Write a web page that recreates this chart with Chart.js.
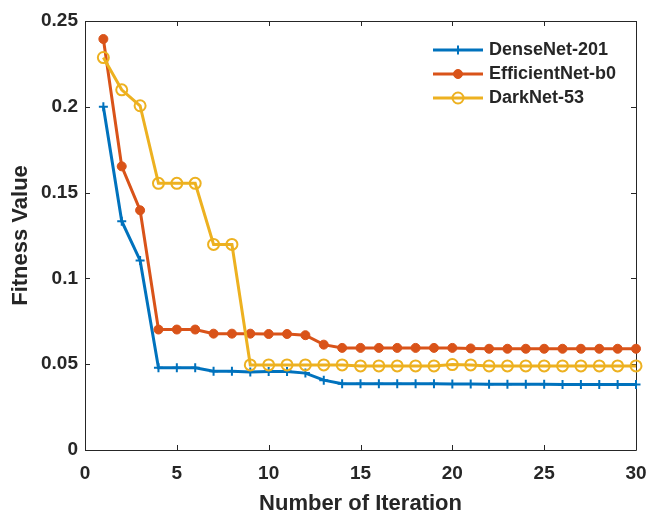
<!DOCTYPE html>
<html>
<head>
<meta charset="utf-8">
<script src="https://cdn.jsdelivr.net/npm/chart.js@4"></script>
<style>
html,body{margin:0;padding:0;background:#fff;}
#wrap{width:649px;height:512px;}
</style>
</head>
<body>
<div id="wrap"><canvas id="c" width="649" height="512"></canvas></div>
<script>
const iterations = [1,2,3,4,5,6,7,8,9,10,11,12,13,14,15,16,17,18,19,20,21,22,23,24,25,26,27,28,29,30];
const denseNet = [0.2000,0.1333,0.1105,0.0479,0.0479,0.0479,0.0459,0.0459,0.0455,0.0457,0.0457,0.0448,0.0407,0.0386,0.0386,0.0386,0.0386,0.0386,0.0386,0.0385,0.0384,0.0383,0.0383,0.0383,0.0383,0.0382,0.0382,0.0382,0.0382,0.0382];
const efficientNet = [0.2395,0.1653,0.1397,0.0702,0.0702,0.0702,0.0678,0.0678,0.0678,0.0676,0.0676,0.0669,0.0614,0.0595,0.0595,0.0595,0.0595,0.0595,0.0595,0.0595,0.0592,0.0590,0.0590,0.0590,0.0590,0.0590,0.0590,0.0590,0.0590,0.0590];
const darkNet = [0.2287,0.2099,0.2006,0.1554,0.1554,0.1554,0.1198,0.1198,0.0496,0.0496,0.0496,0.0496,0.0496,0.0496,0.0490,0.0490,0.0490,0.0490,0.0490,0.0498,0.0496,0.0490,0.0490,0.0490,0.0490,0.0490,0.0490,0.0490,0.0490,0.0490];
const seriesNames = ['DenseNet-201','EfficientNet-b0','DarkNet-53'];
const xTickLabels = ['0','5','10','15','20','25','30'];
const yTickLabels = ['0','0.05','0.1','0.15','0.2','0.25'];

const AX = '#262626';
const FONT = "'Liberation Sans', Arial, sans-serif";

function pts(arr){ return arr.map((v,i)=>({x: iterations[i], y: v})); }

const framePlugin = {
  id: 'frame',
  beforeDatasetsDraw(chart){
    const {ctx, chartArea: a, scales} = chart;
    ctx.save();
    ctx.strokeStyle = AX;
    ctx.lineWidth = 1;
    ctx.beginPath();
    ctx.rect(Math.round(a.left)+0.5, Math.round(a.top)+0.5, Math.round(a.right-a.left), Math.round(a.bottom-a.top));
    ctx.stroke();
    const L = 5;
    ctx.beginPath();
    scales.x.ticks.forEach(t=>{
      const px = Math.round(scales.x.getPixelForValue(t.value))+0.5;
      ctx.moveTo(px, a.bottom); ctx.lineTo(px, a.bottom-L);
      ctx.moveTo(px, a.top); ctx.lineTo(px, a.top+L);
    });
    scales.y.ticks.forEach(t=>{
      const py = Math.round(scales.y.getPixelForValue(t.value))+0.5;
      ctx.moveTo(a.left, py); ctx.lineTo(a.left+L, py);
      ctx.moveTo(a.right, py); ctx.lineTo(a.right-L, py);
    });
    ctx.stroke();
    ctx.restore();
  },
  afterDraw(chart){
    const {ctx} = chart;
    ctx.save();
    const rows = [50, 74, 98];
    chart.data.datasets.forEach((ds,i)=>{
      const y = rows[i];
      ctx.strokeStyle = ds.borderColor;
      ctx.lineWidth = ds.borderWidth;
      ctx.beginPath(); ctx.moveTo(433,y); ctx.lineTo(483,y); ctx.stroke();
      const mx = 458, r = ds.pointRadius;
      ctx.lineWidth = ds.pointBorderWidth;
      ctx.strokeStyle = ds.pointBorderColor;
      if (ds.pointStyle === 'cross'){
        ctx.beginPath();
        ctx.moveTo(mx-r,y); ctx.lineTo(mx+r,y);
        ctx.moveTo(mx,y-r); ctx.lineTo(mx,y+r);
        ctx.stroke();
      } else {
        ctx.beginPath(); ctx.arc(mx,y,r,0,Math.PI*2);
        ctx.fillStyle = ds.pointBackgroundColor;
        ctx.fill();
        ctx.stroke();
      }
      ctx.fillStyle = AX;
      ctx.font = "bold 18px " + FONT;
      ctx.textBaseline = 'middle';
      ctx.textAlign = 'left';
      ctx.fillText(ds.label, 489, y+0.5);
    });
    ctx.restore();
  }
};

new Chart(document.getElementById('c'), {
  type: 'line',
  data: {
    datasets: [
      {label: seriesNames[0], data: pts(denseNet), borderColor:'#0072BD', backgroundColor:'#0072BD', borderWidth:3,
       pointStyle:'cross', pointRadius:4.5, pointBorderWidth:2, pointBorderColor:'#0072BD', pointBackgroundColor:'#0072BD', order:3, clip:false},
      {label: seriesNames[1], data: pts(efficientNet), borderColor:'#D95319', backgroundColor:'#D95319', borderWidth:3,
       pointStyle:'circle', pointRadius:4.5, pointBorderWidth:1, pointBorderColor:'#D95319', pointBackgroundColor:'#D95319', order:2, clip:false},
      {label: seriesNames[2], data: pts(darkNet), borderColor:'#EDB120', backgroundColor:'#EDB120', borderWidth:3,
       pointStyle:'circle', pointRadius:5.5, pointBorderWidth:2, pointBorderColor:'#EDB120', pointBackgroundColor:'rgba(255,255,255,0)', order:1, clip:false}
    ]
  },
  options: {
    responsive: false,
    animation: false,
    devicePixelRatio: 1,
    layout: {padding: {top: 21, right: 13, left: 0, bottom: 0}},
    elements: {line: {tension: 0}, point: {hoverRadius: 5}},
    plugins: {legend: {display: false}, tooltip: {enabled: false}},
    events: [],
    scales: {
      x: {
        type: 'linear', min: 0, max: 30,
        grid: {display: false, drawTicks: false},
        border: {display: false},
        ticks: {stepSize: 5, padding: 14, color: AX, font: {family: FONT, size: 19, weight: 'bold', lineHeight: 1},
          maxRotation: 0, autoSkip: false,
          callback: (v)=>{ const i = Math.round(v/5); return xTickLabels[i] !== undefined ? xTickLabels[i] : ''; }},
        title: {display: true, text: 'Number of Iteration', color: AX, font: {family: FONT, size: 22, weight: 'bold', lineHeight: 1}, padding: {top: 0, bottom: -2.7}},
        afterFit: (s)=>{ s.height = 62; s.paddingLeft = 0; s.paddingRight = 0; }
      },
      y: {
        type: 'linear', min: 0, max: 0.25,
        grid: {display: false, drawTicks: false},
        border: {display: false},
        ticks: {stepSize: 0.05, padding: 7, color: AX, font: {family: FONT, size: 19, weight: 'bold', lineHeight: 1}, autoSkip: false,
          callback: (v)=>{ const i = Math.round(v/0.05); return yTickLabels[i] !== undefined ? yTickLabels[i] : ''; }},
        title: {display: true, text: 'Fitness Value', color: AX, font: {family: FONT, size: 22, weight: 'bold', lineHeight: 1}, padding: {top: 9.5, bottom: 0}},
        afterFit: (s)=>{ s.width = 85; s.paddingTop = 0; s.paddingBottom = 0; }
      }
    }
  },
  plugins: [framePlugin]
});
</script>
</body>
</html>
